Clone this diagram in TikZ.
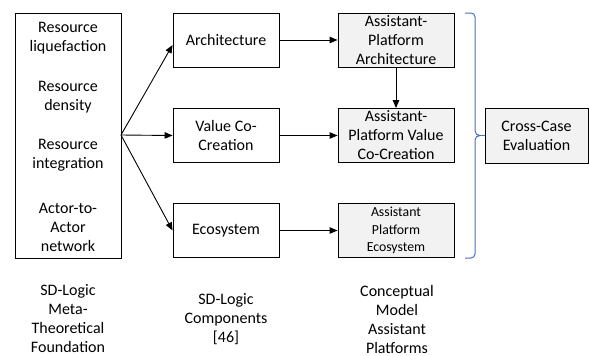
\documentclass[tikz,border=0pt]{standalone}
\usepackage{fontspec}
\setmainfont{Carlito}
\usetikzlibrary{arrows.meta,calc}
\definecolor{bracecol}{HTML}{4472C4}
\definecolor{boxfill}{HTML}{F2F2F2}
\begin{document}
\begin{tikzpicture}[x=1pt,y=-1pt,
  txt/.style={font=\fontsize{16}{19}\selectfont, align=center, inner sep=0pt},
  box/.style={draw, line width=0.9pt, minimum width=106pt, minimum height=54pt, inner sep=0pt, txt},
  gbox/.style={box, fill=boxfill, minimum width=116pt},
  arr/.style={line width=0.9pt, -{Triangle[length=8pt,width=6.5pt]}},
  bracestyle/.style={draw=bracecol, line width=1pt}
]
\useasboundingbox (0,0) rectangle (589,356);

% left foundation box
\node[box, minimum width=106pt, minimum height=245pt] (found) at (68,135.5) {};
\node[txt] (r1) at (68,38.5) {Resource\\liquefaction};
\node[txt] (r2) at (68,97.5) {Resource\\density};
\node[txt] (r3) at (68,155.5) {Resource\\integration};
\node[txt] (r4) at (68,227) {Actor-to-\\Actor\\network};

% middle column
\node[box] (arch) at (226,40) {Architecture};
\node[box] (vcc) at (226,135.5) {Value Co-\\Creation};
\node[box] (eco) at (226,230.5) {Ecosystem};

% right column
\node[gbox] (aparch) at (396,40) {Assistant-\\Platform\\Architecture};
\node[gbox] (apvcc) at (396,135.5) {Assistant-\\Platform Value\\Co-Creation};
\node[gbox, font=\fontsize{13.8}{17.5}\selectfont] (apeco) at (396,230.5) {Assistant\\Platform\\Ecosystem};

% cross-case
\node[gbox, minimum width=103pt, minimum height=55pt] (cce) at (536.5,135.5) {Cross-Case\\Evaluation};

% arrows
\coordinate (src) at (121,135);
\draw[arr] (src) -- ($(arch.west)+(0,5)$);
\draw[arr] (src) -- (vcc.west);
\draw[arr] (src) -- (eco.west);
\draw[arr] (arch.east) -- (aparch.west);
\draw[arr] (vcc.east) -- (apvcc.west);
\draw[arr] (eco.east) -- (apeco.west);
\draw[arr] (aparch.south) -- (apvcc.north);

% brace
\coordinate (btip) at (480,135.5);
\draw[bracestyle] (465,13) -- (471,13) to[out=0,in=90] (475,17) -- (475,131)
  to[out=-90,in=180] (btip) to[out=180,in=90] (475,140) -- (475,254)
  to[out=-90,in=0] (471,258) -- (465,258);
\draw[bracestyle] (btip) -- (cce.west);

% bottom labels
\node[txt] (l1) at (68,319) {SD-Logic\\Meta-\\Theoretical\\Foundation};
\node[txt] (l2) at (226,319) {SD-Logic\\Components\\{[46]}};
\node[txt] (l3) at (397,319) {Conceptual\\Model\\Assistant\\Platforms};
\end{tikzpicture}
\end{document}
